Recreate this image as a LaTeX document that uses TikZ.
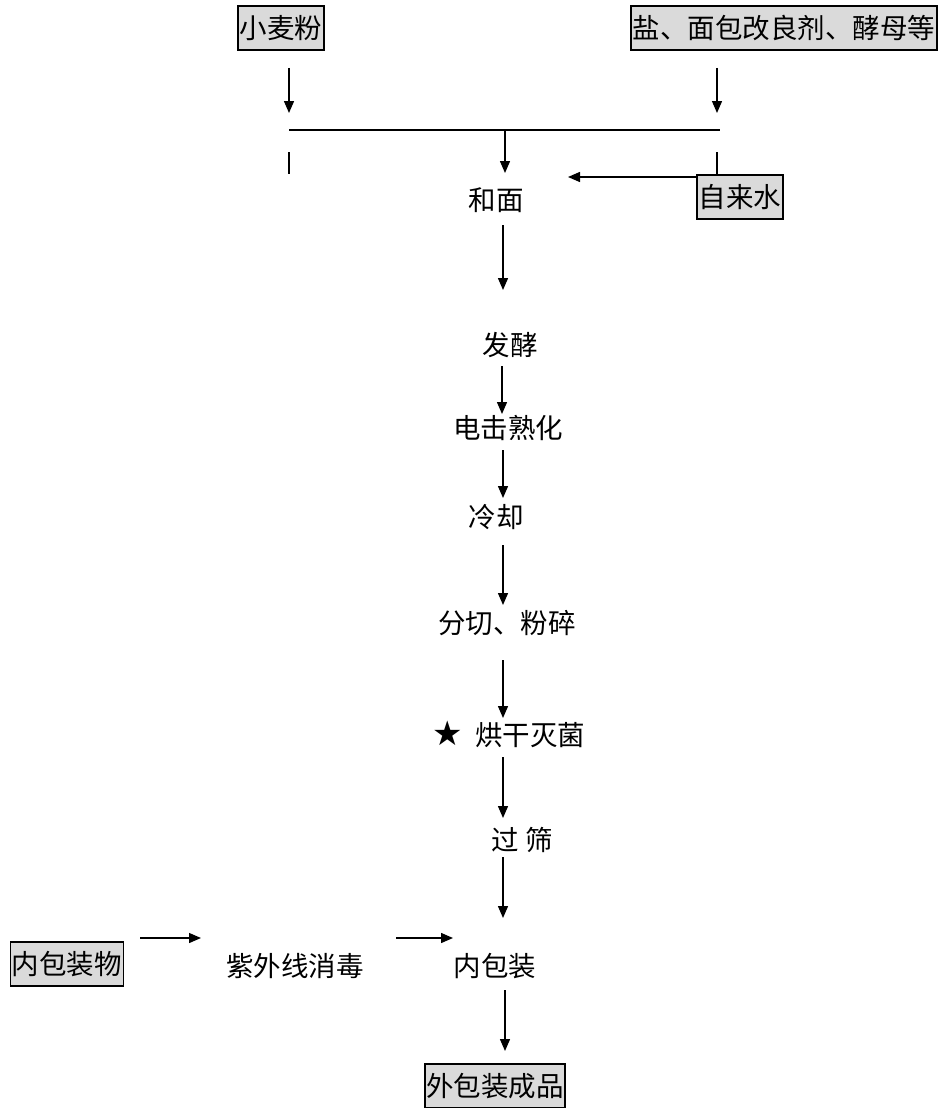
\documentclass[tikz,border=0pt]{standalone}
\usepackage{fontspec}
\setmainfont{Noto Sans CJK SC}
\newfontfamily\symfont{DejaVu Sans}
\usetikzlibrary{arrows.meta}
\definecolor{boxgray}{RGB}{218,218,218}
\begin{document}
\begin{tikzpicture}[x=1pt,y=-1pt,
  every node/.style={font=\fontsize{27.5}{29}\selectfont, inner sep=1pt},
  inbox/.style={draw=black, fill=boxgray, line width=1.6pt, inner xsep=1.5pt, inner ysep=3pt, minimum height=44pt},
  plain/.style={},
  arr/.style={-{Triangle[length=12pt,width=10pt]}, line width=1.4pt},
  ln/.style={line width=1.4pt}]
\useasboundingbox (0,0) rectangle (942,1108);
% inputs
\node[inbox] (flour) at (281,28) {小麦粉};
\node[inbox] (salt) at (784,28) {盐、面包改良剂、酵母等};
\node[inbox] (water) at (740,197) {自来水};
% arrows into the junction line
\coordinate (fa) at (289,68);
\coordinate (fb) at (289,113);
\coordinate (sa) at (717,68);
\coordinate (sb) at (717,113);
\draw[arr] (fa) -- (fb);
\draw[arr] (sa) -- (sb);
\coordinate (jl) at (289,130);
\coordinate (jr) at (720,130);
\coordinate (jm) at (505,130);
\draw[ln] (jl) -- (jr);
\coordinate (tl1) at (289,152);
\coordinate (tl2) at (289,174);
\draw[line width=1.2pt] (tl1) -- (tl2);
\coordinate (tr1) at (717,152);
\draw[line width=1.2pt] (tr1) -- (water.north -| tr1);
% process steps
\node[plain] (mix) at (496,200) {和面};
\node[plain] (ferm) at (510,345) {发酵};
\node[plain] (shock) at (508,428) {电击熟化};
\node[plain] (cool) at (496,517) {冷却};
\node[plain] (cut) at (507,623) {分切、粉碎};
\node[plain] (dry) at (530,735) {烘干灭菌};
\node[plain, font=\symfont\fontsize{34}{36}\selectfont] (star) at (448,733) {★};
\node[plain] (sieve) at (522,840) {过\ 筛};
\node[plain] (inner) at (495,966) {内包装};
\node[inbox] (outer) at (495,1086) {外包装成品};
\node[inbox] (pack) at (67,964) {内包装物};
\node[plain] (uv) at (295,966) {紫外线消毒};
% connectors
\coordinate (m1) at (505,173);
\draw[arr] (jm) -- (m1);
\coordinate (w1) at (568,177);
\draw[arr] (water.west |- w1) -- (w1);
\coordinate (a1) at (503,225); \coordinate (a2) at (503,290);
\draw[arr] (a1) -- (a2);
\coordinate (b1) at (502,366); \coordinate (b2) at (502,414);
\draw[arr] (b1) -- (b2);
\coordinate (c1) at (503,450); \coordinate (c2) at (503,498);
\draw[arr] (c1) -- (c2);
\coordinate (d1) at (503,545); \coordinate (d2) at (503,605);
\draw[arr] (d1) -- (d2);
\coordinate (e1) at (503,660); \coordinate (e2) at (503,718);
\draw[arr] (e1) -- (e2);
\coordinate (f1) at (503,757); \coordinate (f2) at (503,818);
\draw[arr] (f1) -- (f2);
\coordinate (g1) at (503,857); \coordinate (g2) at (503,918);
\draw[arr] (g1) -- (g2);
\coordinate (h1) at (505,990); \coordinate (h2) at (505,1051);
\draw[arr] (h1) -- (h2);
\coordinate (p1) at (140,938); \coordinate (p2) at (201,938);
\draw[arr] (p1) -- (p2);
\coordinate (u1) at (396,938); \coordinate (u2) at (453,938);
\draw[arr] (u1) -- (u2);
\end{tikzpicture}
\end{document}
